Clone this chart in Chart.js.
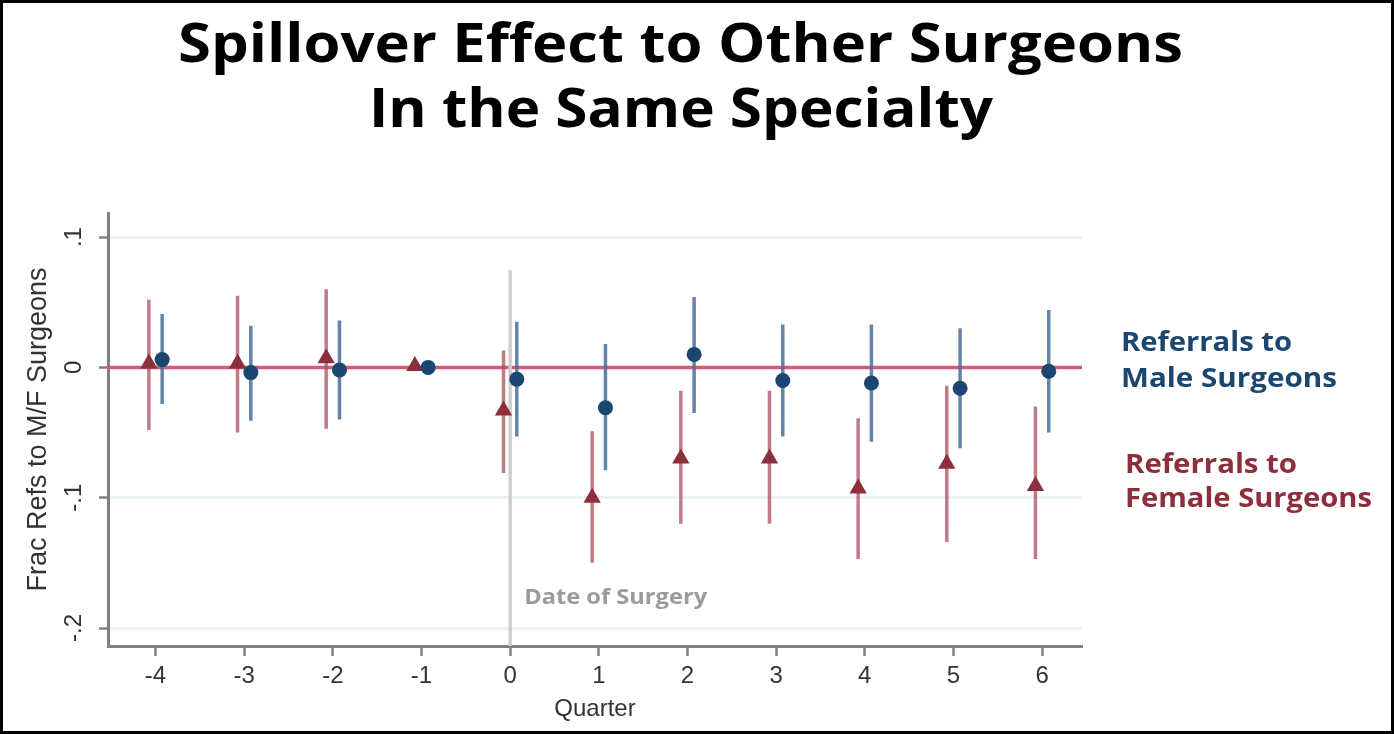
<!DOCTYPE html>
<html>
<head>
<meta charset="utf-8">
<script src="https://cdn.jsdelivr.net/npm/chart.js@4"></script>
<style>
  html, body { margin: 0; padding: 0; background: #fff; }
  #wrap { position: relative; width: 1394px; height: 734px; overflow: hidden; }
  #frame { position: absolute; left: 0; top: 0; width: 1394px; height: 734px; box-sizing: border-box; border: 3px solid #000; pointer-events: none; }
  canvas { position: absolute; left: 0; top: 0; }
</style>
</head>
<body>
<div id="wrap">
  <canvas id="c" width="1394" height="734"></canvas>
  <div id="frame"></div>
</div>
<script>
// ---- data ----
const quarters = [-4, -3, -2, -1, 0, 1, 2, 3, 4, 5, 6];
const maleEst   = [0.006, -0.004, -0.002, 0.000, -0.009, -0.031, 0.010, -0.010, -0.012, -0.016, -0.003];
const maleLo    = [-0.028, -0.041, -0.040, null, -0.053, -0.079, -0.035, -0.053, -0.057, -0.062, -0.050];
const maleHi    = [0.041, 0.032, 0.036, null, 0.035, 0.018, 0.054, 0.033, 0.033, 0.030, 0.044];
const femaleEst = [0.003, 0.003, 0.007, 0.001, -0.033, -0.100, -0.070, -0.070, -0.093, -0.074, -0.091];
const femaleLo  = [-0.048, -0.050, -0.047, null, -0.081, -0.150, -0.120, -0.120, -0.147, -0.134, -0.147];
const femaleHi  = [0.052, 0.055, 0.060, null, 0.013, -0.049, -0.018, -0.018, -0.039, -0.014, -0.030];
const yTicks = [0.1, 0, -0.1, -0.2];
const yTickLabels = ['.1', '0', '-.1', '-.2'];
const titleLines = ['Spillover Effect to Other Surgeons', 'In the Same Specialty'];
const maleLabel = ['Referrals to', 'Male Surgeons'];
const femaleLabel = ['Referrals to', 'Female Surgeons'];
const eventLabel = 'Date of Surgery';
const eventQuarter = 0;
const eventLineTop = 0.0745;

// ---- view settings ----
const X_MIN = -4.536, X_MAX = 6.45, Y_MIN = -0.2138, Y_MAX = 0.1185;
const OFFSET = 0.075;

const BLUE = '#1b4670', BLUE_CI = 'rgba(74,112,150,0.85)';
const RED = '#8c2e3c', RED_CI = 'rgba(170,80,92,0.75)';
const HEAD_FONT = '"Open Sans", Lato, sans-serif';

function ciData(xs, lo, hi, off) {
  const out = [];
  xs.forEach((q, i) => {
    if (lo[i] === null || hi[i] === null) return;
    out.push({x: q + off, y: lo[i]}, {x: q + off, y: hi[i]}, {x: q + off, y: null});
  });
  return out;
}
function ptData(xs, est, off) { return xs.map((q, i) => ({x: q + off, y: est[i]})); }

// draw text left-aligned at (x, cy) stretched horizontally to a target width
function fitText(ctx, text, x, cy, width) {
  const w = ctx.measureText(text).width;
  ctx.save();
  ctx.translate(x, cy);
  ctx.scale(width / w, 1);
  ctx.textAlign = 'left';
  ctx.textBaseline = 'middle';
  ctx.fillText(text, 0, 0);
  ctx.restore();
}

const textPlugin = {
  id: 'texts',
  afterDraw(chart) {
    const ctx = chart.ctx;
    const ys = chart.scales.y, xs = chart.scales.x;
    ctx.save();
    // title
    ctx.fillStyle = '#000';
    ctx.font = '700 53px ' + HEAD_FONT;
    fitText(ctx, titleLines[0], 178, 47, 1005);
    fitText(ctx, titleLines[1], 369, 112, 624);
    // y tick labels (rotated)
    ctx.fillStyle = '#333';
    ctx.font = '24px "Liberation Sans", Arial, sans-serif';
    yTicks.forEach((v, i) => {
      const py = ys.getPixelForValue(v);
      ctx.save();
      ctx.translate(74, py);
      ctx.rotate(-Math.PI / 2);
      ctx.textAlign = 'center';
      ctx.textBaseline = 'middle';
      ctx.fillText(yTickLabels[i], 0, 0);
      ctx.restore();
    });
    // event label
    ctx.fillStyle = '#9b9b9b';
    ctx.font = 'bold 21px ' + HEAD_FONT;
    fitText(ctx, eventLabel, xs.getPixelForValue(eventQuarter) + 14, 598, 183);
    // series labels
    ctx.font = 'bold 26px ' + HEAD_FONT;
    ctx.fillStyle = BLUE;
    fitText(ctx, maleLabel[0], 1121, 344, 171);
    fitText(ctx, maleLabel[1], 1121, 380, 216);
    ctx.fillStyle = RED;
    fitText(ctx, femaleLabel[0], 1125, 466, 172);
    fitText(ctx, femaleLabel[1], 1125, 500, 247);
    ctx.restore();
  }
};

new Chart(document.getElementById('c'), {
  type: 'scatter',
  data: {
    datasets: [
      { type: 'scatter', label: 'Male', data: ptData(quarters, maleEst, OFFSET), pointStyle: 'circle', pointRadius: 7.5, backgroundColor: BLUE, borderColor: BLUE, borderWidth: 0, order: 0 },
      { type: 'scatter', label: 'Female', data: ptData(quarters, femaleEst, -OFFSET), pointStyle: 'triangle', pointRadius: 10, backgroundColor: RED, borderColor: RED, borderWidth: 0, order: 0 },
      { type: 'line', label: 'Male CI', data: ciData(quarters, maleLo, maleHi, OFFSET), showLine: true, spanGaps: false, borderColor: BLUE_CI, borderWidth: 3.5, pointRadius: 0, borderCapStyle: 'butt', order: 1 },
      { type: 'line', label: 'Female CI', data: ciData(quarters, femaleLo, femaleHi, -OFFSET), showLine: true, spanGaps: false, borderColor: RED_CI, borderWidth: 3.5, pointRadius: 0, borderCapStyle: 'butt', order: 1 },
      { type: 'line', label: 'event', data: [{x: eventQuarter, y: eventLineTop}, {x: eventQuarter, y: Y_MIN}], borderColor: '#cfcfcf', borderWidth: 3.5, pointRadius: 0, order: 2 },
      { type: 'line', label: 'zero', data: [{x: X_MIN, y: 0}, {x: X_MAX, y: 0}], borderColor: '#d8587a', borderWidth: 3.5, pointRadius: 0, order: 3 }
    ]
  },
  options: {
    responsive: false,
    devicePixelRatio: 1,
    animation: false,
    layout: { padding: { left: 0, right: 312, top: 213, bottom: 0 } },
    plugins: { legend: { display: false }, tooltip: { enabled: false }, title: { display: false } },
    scales: {
      x: {
        type: 'linear', min: X_MIN, max: X_MAX,
        afterBuildTicks(s) { s.ticks = quarters.map(v => ({value: v})); },
        afterFit(s) { s.height = 88; },
        ticks: { color: '#333', font: { size: 24, family: '"Liberation Sans", Arial, sans-serif' }, padding: 6, autoSkip: false, maxRotation: 0, callback: v => String(v) },
        grid: { drawOnChartArea: false, drawTicks: true, tickLength: 10, tickColor: '#808080', tickWidth: 2.5 },
        border: { color: '#808080', width: 3 },
        title: { display: true, text: 'Quarter', color: '#333', font: { size: 24, family: '"Liberation Sans", Arial, sans-serif' }, padding: { top: 0, bottom: 10 } }
      },
      y: {
        type: 'linear', min: Y_MIN, max: Y_MAX,
        afterBuildTicks(s) { s.ticks = yTicks.map(v => ({value: v})); },
        afterFit(s) { s.width = 108; },
        ticks: { display: false },
        grid: { color: '#edf3f3', lineWidth: 3, drawTicks: true, tickLength: 9, tickColor: '#808080', tickWidth: 2.5 },
        border: { color: '#808080', width: 3 },
        title: { display: true, text: 'Frac Refs to M/F Surgeons', color: '#333', font: { size: 27, family: '"Liberation Sans", Arial, sans-serif' }, padding: { top: 22, bottom: 0 } }
      }
    }
  },
  plugins: [textPlugin]
});
</script>
</body>
</html>
